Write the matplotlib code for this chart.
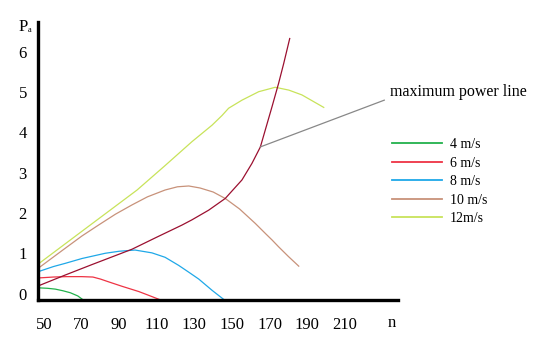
import matplotlib
matplotlib.use("Agg")
import matplotlib.pyplot as plt
from matplotlib.lines import Line2D

# ---- data ----
x_ticks = [50, 70, 90, 110, 130, 150, 170, 190, 210]
y_ticks = [0, 1, 2, 3, 4, 5, 6]

n_4 = [48, 52, 56, 60, 64, 68, 70.6]
p_4 = [0.14, 0.13, 0.11, 0.07, 0.02, -0.06, -0.15]

n_6 = [48, 55, 62, 70, 76, 80, 84.4, 91.5, 100.4, 106, 111.5]
p_6 = [0.39, 0.41, 0.42, 0.42, 0.41, 0.36, 0.29, 0.18, 0.05, -0.05, -0.15]

n_8 = [48, 55, 61.3, 70.2, 82.6, 90, 98.4, 107.4, 114.4, 121.6, 127, 132.3, 139.4, 145.7]
p_8 = [0.56, 0.67, 0.75, 0.87, 1.00, 1.05, 1.08, 1.01, 0.90, 0.70, 0.53, 0.36, 0.08, -0.15]

n_10 = [48, 60, 70.2, 79, 88, 96.8, 105, 114.4, 121, 127, 133, 140, 146.4, 154, 162.4, 168, 171.3, 174.8, 180, 185.5]
p_10 = [0.665, 1.08, 1.43, 1.70, 1.97, 2.20, 2.40, 2.57, 2.65, 2.67, 2.62, 2.52, 2.36, 2.10, 1.74, 1.48, 1.33, 1.16, 0.92, 0.68]

n_12 = [48, 70, 99.5, 114, 128.7, 139.4, 144.7, 148.2, 155.3, 164.2, 173, 180.2, 187.2, 198.8]
p_12 = [0.77, 1.54, 2.57, 3.16, 3.77, 4.18, 4.42, 4.60, 4.80, 5.01, 5.12, 5.05, 4.93, 4.62]

n_mp = [48, 61.3, 75, 96.8, 110, 123.4, 128.7, 137.6, 146.4, 155.3, 160.6, 165.1, 167.7, 171.3, 174.8, 177.5, 180.7]
p_mp = [0.21, 0.46, 0.71, 1.10, 1.40, 1.70, 1.83, 2.07, 2.36, 2.82, 3.23, 3.64, 4.06, 4.64, 5.22, 5.71, 6.33]

n_pointer = [165.1, 231.0]
p_pointer = [3.64, 4.80]

labels = ["4 m/s", "6 m/s", "8 m/s", "10 m/s", "12m/s"]

# ---- figure ----
W, H = 541, 353
fig = plt.figure(figsize=(W / 100, H / 100), dpi=100)
ax = fig.add_axes([38 / W, (H - 300) / H, (398 - 38) / W, (300 - 22) / H])
serif = "Liberation Serif"

c4, c6, c8, c10, c12, cmp_ = "#22b14c", "#ee3344", "#1fa8e8", "#c8927a", "#c8e35a", "#9b1030"
lw = 0.9
ax.plot(n_4, p_4, color=c4, lw=lw)
ax.plot(n_6, p_6, color=c6, lw=lw)
ax.plot(n_8, p_8, color=c8, lw=lw)
ax.plot(n_10, p_10, color=c10, lw=lw)
ax.plot(n_12, p_12, color=c12, lw=lw)
ax.plot(n_mp, p_mp, color=cmp_, lw=lw)
ax.plot(n_pointer, p_pointer, color="#888888", lw=lw, clip_on=False)

ax.set_xlim(46.8, 238.3)
ax.set_ylim(-0.16, 6.74)
for s in ["top", "right"]:
    ax.spines[s].set_visible(False)
for s in ["left", "bottom"]:
    ax.spines[s].set_linewidth(2.4)
    ax.spines[s].set_color("black")

ax.set_xticks(x_ticks)
ax.set_xticklabels([str(v) for v in x_ticks], fontfamily=serif, fontsize=12)
ax.set_yticks(y_ticks)
ax.set_yticklabels([str(v) for v in y_ticks], fontfamily=serif, fontsize=12)
ax.tick_params(axis="x", length=0, pad=12)
ax.tick_params(axis="y", length=0, pad=8)

fig.text(19 / W, 1 - 27 / H, "P", fontfamily=serif, fontsize=12, va="center", ha="left")
fig.text(28 / W, 1 - 30 / H, "a", fontfamily=serif, fontsize=6, va="center", ha="left")
fig.text(392 / W, 1 - 323 / H, "n", fontfamily=serif, fontsize=12, va="center", ha="center")
fig.text(390 / W, 1 - 92 / H, "maximum power line", fontfamily=serif, fontsize=11.5,
         va="center", ha="left")

handles = [Line2D([], [], color=c, lw=1.3) for c in (c4, c6, c8, c10, c12)]
fig.legend(handles, labels, loc="upper left", bbox_to_anchor=(392 / W, 1 - 138 / H),
           frameon=False, prop={"family": serif, "size": 10}, handlelength=3.6,
           handletextpad=0.55, labelspacing=0.4, borderpad=0, borderaxespad=0)

fig.savefig("out.png", dpi=100)
